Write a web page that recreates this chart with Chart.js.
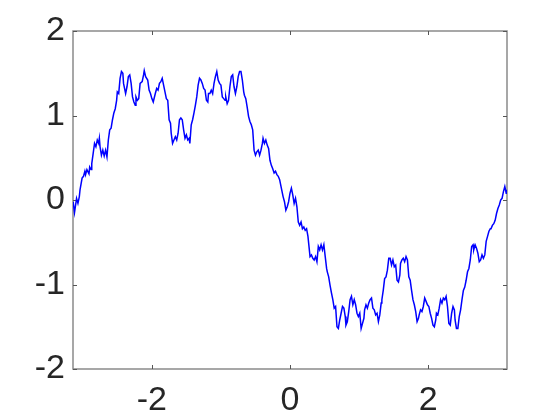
<!DOCTYPE html>
<html>
<head>
<meta charset="utf-8">
<script src="https://cdn.jsdelivr.net/npm/chart.js@4/dist/chart.umd.min.js"></script>
<style>
  body { margin: 0; background: #fff; }
</style>
</head>
<body>
<canvas id="myChart" width="560" height="420"></canvas>
<script>
// datos (mitad izquierda y mitad derecha)
let xIzq = [
  -3.14,-3.12,-3.09,-3.07,-3.05,-3.04,-3.01,-2.99,-2.97,-2.96,
  -2.94,-2.91,-2.90,-2.88,-2.87,-2.85,-2.83,-2.81,-2.79,-2.77,
  -2.76,-2.75,-2.73,-2.71,-2.69,-2.67,-2.65,-2.63,-2.61,-2.59,
  -2.57,-2.55,-2.53,-2.51,-2.50,-2.48,-2.46,-2.44,-2.42,-2.41,
  -2.38,-2.36,-2.34,-2.32,-2.30,-2.28,-2.26,-2.24,-2.23,-2.21,
  -2.19,-2.17,-2.14,-2.12,-2.11,-2.09,-2.06,-2.04,-2.02,-2.00,
  -1.98,-1.95,-1.93,-1.91,-1.89,-1.87,-1.85,-1.83,-1.81,-1.79,
  -1.77,-1.75,-1.73,-1.72,-1.70,-1.68,-1.66,-1.64,-1.62,-1.60,
  -1.58,-1.56,-1.54,-1.52,-1.50,-1.48,-1.46,-1.45,-1.43,-1.41,
  -1.39,-1.37,-1.35,-1.33,-1.31,-1.29,-1.27,-1.25,-1.23,-1.21,
  -1.19,-1.18,-1.16,-1.14,-1.12,-1.10,-1.08,-1.06,-1.04,-1.02,
  -1.00,-0.98,-0.96,-0.94,-0.93,-0.91,-0.89,-0.87,-0.85,-0.83,
  -0.81,-0.79,-0.77,-0.75,-0.73,-0.71,-0.69,-0.67,-0.66,-0.64,
  -0.62,-0.60,-0.58,-0.56,-0.54,-0.52,-0.50,-0.48,-0.46,-0.44,
  -0.42,-0.40,-0.39,-0.37,-0.35,-0.33,-0.31,-0.29,-0.27,-0.25,
  -0.23,-0.21,-0.19,-0.17,-0.15,-0.14,-0.12,-0.10,-0.08,-0.06,
  -0.04,-0.02
];
let yIzq = [
  -0.02,-0.15,0.02,-0.04,0.04,0.12,0.26,0.28,0.34,0.30,
  0.36,0.31,0.39,0.36,0.43,0.55,0.67,0.63,0.71,0.67,
  0.73,0.63,0.53,0.59,0.52,0.59,0.51,0.71,0.83,0.85,
  0.95,1.03,1.08,1.18,1.28,1.26,1.44,1.52,1.50,1.38,
  1.26,1.34,1.46,1.48,1.38,1.22,1.16,1.12,1.22,1.18,
  1.20,1.38,1.40,1.48,1.53,1.46,1.42,1.30,1.26,1.20,
  1.16,1.26,1.32,1.30,1.38,1.40,1.44,1.36,1.28,1.20,
  1.18,0.95,0.91,0.79,0.67,0.71,0.75,0.71,0.79,0.95,
  0.97,0.95,0.83,0.73,0.77,0.71,0.73,0.67,0.89,0.95,
  1.03,1.12,1.22,1.36,1.44,1.42,1.38,1.32,1.30,1.18,
  1.16,1.26,1.26,1.30,1.26,1.38,1.46,1.52,1.42,1.38,
  1.36,1.22,1.20,1.18,1.22,1.14,1.18,1.34,1.46,1.48,
  1.34,1.26,1.34,1.46,1.52,1.52,1.42,1.28,1.24,1.20,
  1.10,0.99,0.93,0.89,0.83,0.59,0.53,0.57,0.59,0.53,
  0.59,0.67,0.73,0.67,0.71,0.65,0.61,0.47,0.41,0.37,
  0.32,0.34,0.30,0.28,0.24,0.20,0.12,0.04,-0.02,-0.12,
  -0.08,-0.02
];
let xDer = [
  0.00,0.02,0.04,0.06,0.08,0.10,0.12,0.14,0.16,0.18,
  0.20,0.22,0.24,0.26,0.27,0.29,0.31,0.33,0.35,0.37,
  0.39,0.41,0.43,0.45,0.47,0.49,0.51,0.53,0.54,0.56,
  0.58,0.60,0.62,0.64,0.66,0.68,0.70,0.72,0.74,0.76,
  0.78,0.80,0.81,0.83,0.85,0.87,0.89,0.91,0.93,0.95,
  0.97,0.99,1.01,1.03,1.05,1.07,1.08,1.10,1.12,1.14,
  1.16,1.18,1.20,1.22,1.24,1.26,1.28,1.30,1.32,1.33,
  1.35,1.37,1.39,1.41,1.43,1.45,1.47,1.49,1.51,1.53,
  1.55,1.57,1.59,1.60,1.62,1.64,1.66,1.68,1.70,1.72,
  1.74,1.76,1.78,1.80,1.82,1.84,1.86,1.87,1.89,1.91,
  1.93,1.95,1.97,1.99,2.01,2.03,2.05,2.07,2.09,2.11,
  2.12,2.14,2.16,2.18,2.20,2.22,2.24,2.26,2.28,2.30,
  2.32,2.34,2.36,2.38,2.39,2.41,2.43,2.45,2.47,2.49,
  2.51,2.53,2.55,2.57,2.59,2.61,2.63,2.65,2.66,2.68,
  2.70,2.72,2.74,2.76,2.78,2.80,2.82,2.84,2.86,2.88,
  2.90,2.91,2.93,2.95,2.97,2.99,3.01,3.03,3.05,3.07,
  3.09,3.11,3.13,3.14
];
let yDer = [
  0.08,0.14,0.06,-0.04,0.02,-0.08,-0.26,-0.30,-0.26,-0.34,
  -0.32,-0.36,-0.34,-0.43,-0.51,-0.67,-0.65,-0.69,-0.71,-0.67,
  -0.73,-0.55,-0.59,-0.53,-0.59,-0.53,-0.67,-0.81,-0.85,-0.91,
  -1.01,-1.10,-1.18,-1.28,-1.26,-1.50,-1.52,-1.42,-1.34,-1.26,
  -1.28,-1.38,-1.48,-1.44,-1.32,-1.18,-1.14,-1.24,-1.18,-1.24,
  -1.34,-1.38,-1.34,-1.52,-1.46,-1.40,-1.30,-1.24,-1.28,-1.22,
  -1.18,-1.16,-1.28,-1.30,-1.36,-1.34,-1.44,-1.36,-1.22,-1.18,
  -1.07,-0.93,-0.91,-0.83,-0.69,-0.69,-0.77,-0.71,-0.79,-0.77,
  -0.95,-0.97,-0.89,-0.75,-0.71,-0.69,-0.73,-0.67,-0.71,-0.91,
  -0.95,-1.07,-1.18,-1.24,-1.32,-1.44,-1.40,-1.36,-1.30,-1.32,
  -1.26,-1.16,-1.20,-1.24,-1.26,-1.34,-1.40,-1.48,-1.50,-1.42,
  -1.34,-1.36,-1.28,-1.18,-1.22,-1.16,-1.18,-1.14,-1.26,-1.46,
  -1.48,-1.34,-1.26,-1.30,-1.42,-1.52,-1.52,-1.38,-1.30,-1.18,
  -1.07,-1.03,-0.95,-0.85,-0.81,-0.71,-0.55,-0.53,-0.59,-0.53,
  -0.57,-0.63,-0.73,-0.71,-0.65,-0.69,-0.65,-0.49,-0.43,-0.37,
  -0.34,-0.34,-0.30,-0.28,-0.24,-0.16,-0.10,-0.06,0.00,0.02,
  0.10,0.16,0.08,0.12
];

let xTicks = [-2, 0, 2];
let yTicks = [-2, -1, 0, 1, 2];

let colorLinea = "#0000ff";
let colorEje = "#8a8a8a";
let colorTexto = "#262626";

let puntos = [];
xIzq.forEach((v, i) => puntos.push({ x: v, y: yIzq[i] }));
xDer.forEach((v, i) => puntos.push({ x: v, y: yDer[i] }));

// marco de la caja + ticks hacia adentro
const marco = {
  id: "marco",
  beforeDatasetsDraw(chart) {
    const ctx = chart.ctx;
    const a = chart.chartArea;
    const sx = chart.scales.x;
    const sy = chart.scales.y;
    ctx.save();
    ctx.strokeStyle = colorEje;
    ctx.lineWidth = 1.5;
    ctx.strokeRect(a.left, a.top, a.right - a.left, a.bottom - a.top);
    ctx.strokeStyle = "#555";
    ctx.lineWidth = 1;
    ctx.beginPath();
    xTicks.forEach((v) => {
      const px = Math.round(sx.getPixelForValue(v)) + 0.5;
      ctx.moveTo(px, a.bottom);
      ctx.lineTo(px, a.bottom - 4);
      ctx.moveTo(px, a.top);
      ctx.lineTo(px, a.top + 4);
    });
    yTicks.forEach((v) => {
      const py = Math.round(sy.getPixelForValue(v)) + 0.5;
      ctx.moveTo(a.left, py);
      ctx.lineTo(a.left + 4, py);
      ctx.moveTo(a.right, py);
      ctx.lineTo(a.right - 4, py);
    });
    ctx.stroke();
    ctx.restore();
  },
};

let config = {
  type: "scatter",
  data: {
    datasets: [
      {
        data: puntos,
        showLine: true,
        borderColor: colorLinea,
        borderWidth: 1.5,
        pointRadius: 0,
        tension: 0,
        fill: false,
      },
    ],
  },
  options: {
    responsive: false,
    animation: false,
    layout: { padding: { left: 0, top: 31, right: 53, bottom: 0 } },
    plugins: {
      legend: { display: false },
      tooltip: { enabled: false },
    },
    scales: {
      x: {
        type: "linear",
        min: -Math.PI,
        max: Math.PI,
        afterBuildTicks: (s) => {
          s.ticks = xTicks.map((v) => ({ value: v }));
        },
        afterFit: (s) => {
          s.height = 51;
        },
        grid: { display: false },
        border: { display: false },
        ticks: {
          color: colorTexto,
          padding: 3,
          maxRotation: 0,
          font: { family: "'Liberation Sans', Arial, sans-serif", size: 34 },
        },
      },
      y: {
        min: -2,
        max: 2,
        afterBuildTicks: (s) => {
          s.ticks = yTicks.map((v) => ({ value: v }));
        },
        afterFit: (s) => {
          s.width = 73;
        },
        grid: { display: false },
        border: { display: false },
        ticks: {
          color: colorTexto,
          padding: 0,
          font: { family: "'Liberation Sans', Arial, sans-serif", size: 34 },
        },
      },
    },
  },
  plugins: [marco],
};

var myChart = new Chart(document.getElementById("myChart"), config);
</script>
</body>
</html>
